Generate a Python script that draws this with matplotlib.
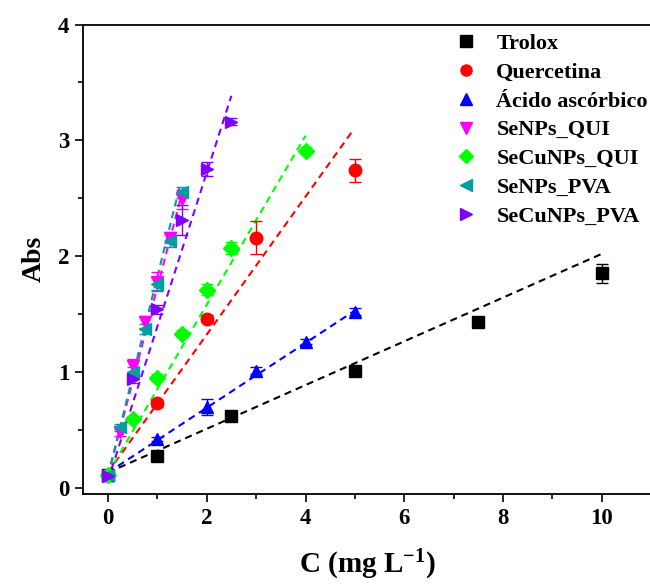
import matplotlib
matplotlib.use("Agg")
import matplotlib.pyplot as plt
import numpy as np
from matplotlib.lines import Line2D

# data
labels = ["Trolox", "Quercetina", "Ácido ascórbico", "SeNPs_QUI",
          "SeCuNPs_QUI", "SeNPs_PVA", "SeCuNPs_PVA"]
colors = ["#000000", "#FF0000", "#0000FF", "#FF00FF",
          "#00FF00", "#009E9E", "#8000FF"]
markers = ["s", "o", "^", "v", "D", "<", ">"]

trolox_x = [0, 1, 2.5, 5, 7.5, 10]
trolox_y = [0.11, 0.27, 0.62, 1.01, 1.43, 1.85]
trolox_e = [0.02, 0.02, 0.02, 0.04, 0.02, 0.085]

querc_x = [0, 1, 2, 3, 5]
querc_y = [0.11, 0.73, 1.46, 2.16, 2.74]
querc_e = [0.02, 0.03, 0.03, 0.14, 0.10]

ascorb_x = [0, 1, 2, 3, 4, 5]
ascorb_y = [0.11, 0.42, 0.70, 1.01, 1.26, 1.52]
ascorb_e = [0.02, 0.02, 0.07, 0.03, 0.02, 0.03]

senps_qui_x = [0, 0.25, 0.5, 0.75, 1.0, 1.25, 1.5]
senps_qui_y = [0.10, 0.48, 1.05, 1.43, 1.78, 2.16, 2.49]
senps_qui_e = [0.02, 0.03, 0.06, 0.05, 0.08, 0.05, 0.08]

secunps_qui_x = [0, 0.5, 1.0, 1.5, 2.0, 2.5, 4.0]
secunps_qui_y = [0.11, 0.59, 0.95, 1.33, 1.71, 2.07, 2.91]
secunps_qui_e = [0.02, 0.02, 0.03, 0.03, 0.05, 0.05, 0.03]

senps_pva_x = [0, 0.25, 0.5, 0.75, 1.0, 1.25, 1.5]
senps_pva_y = [0.11, 0.52, 1.00, 1.37, 1.76, 2.13, 2.55]
senps_pva_e = [0.02, 0.03, 0.04, 0.04, 0.05, 0.05, 0.05]

secunps_pva_x = [0, 0.5, 1.0, 1.5, 2.0, 2.5]
secunps_pva_y = [0.10, 0.94, 1.54, 2.31, 2.75, 3.16]
secunps_pva_e = [0.02, 0.04, 0.04, 0.13, 0.06, 0.03]

# fitted lines: intercept, slope, last x
fit_intercept = [0.13, 0.13, 0.13, 0.10, 0.12, 0.10, 0.06]
fit_slope = [0.189, 0.596, 0.28, 1.63, 0.73, 1.72, 1.33]
fit_xmax = [10, 4.95, 5, 1.5, 4, 1.46, 2.5]

series = [
    (trolox_x, trolox_y, trolox_e),
    (querc_x, querc_y, querc_e),
    (ascorb_x, ascorb_y, ascorb_e),
    (senps_qui_x, senps_qui_y, senps_qui_e),
    (secunps_qui_x, secunps_qui_y, secunps_qui_e),
    (senps_pva_x, senps_pva_y, senps_pva_e),
    (secunps_pva_x, secunps_pva_y, secunps_pva_e),
]

plt.rcParams["font.family"] = ["Liberation Serif", "DejaVu Serif"]
plt.rcParams["font.weight"] = "bold"
plt.rcParams["mathtext.fontset"] = "custom"
plt.rcParams["mathtext.rm"] = "Liberation Serif:bold"
plt.rcParams["mathtext.it"] = "Liberation Serif:bold"
plt.rcParams["mathtext.bf"] = "Liberation Serif:bold"

fig = plt.figure(figsize=(6.5, 5.86), dpi=100)
ax = fig.add_axes([0.128, 0.157, 0.874, 0.801])

for i, (x, y, e) in enumerate(series):
    xx = np.array([0, fit_xmax[i]])
    ax.plot(xx, fit_intercept[i] + fit_slope[i] * xx, color=colors[i],
            linestyle=(0, (3.4, 2.4)), linewidth=1.5, zorder=2)

for i, (x, y, e) in enumerate(series):
    ms = 8 if markers[i] in ("D", "s") else 9
    ax.errorbar(x, y, yerr=e, fmt=markers[i], color=colors[i],
                markersize=ms, capsize=4, elinewidth=1, capthick=1,
                zorder=3)

ax.set_xlim(-0.5, 11)
ax.set_ylim(-0.055, 4)
ax.set_xticks([0, 2, 4, 6, 8, 10])
ax.set_xticks([1, 3, 5, 7, 9], minor=True)
ax.set_yticks([0, 1, 2, 3, 4])
ax.set_yticks([0.5, 1.5, 2.5, 3.5], minor=True)
ax.tick_params(which="major", direction="out", length=6, width=1.2,
               labelsize=16.5, pad=4)
ax.tick_params(which="minor", direction="out", length=3.5, width=1.2)
for lab in ax.get_xticklabels() + ax.get_yticklabels():
    lab.set_fontweight("bold")
for sp in ax.spines.values():
    sp.set_linewidth(1.3)

ax.set_xlabel("C (mg L$^{-1}$)", fontsize=21, fontweight="bold",
              labelpad=14)
ax.set_ylabel("Abs", fontsize=20, fontweight="bold", labelpad=8)

handles = [Line2D([], [], linestyle="none", marker=markers[i],
                  color=colors[i], markersize=8 if markers[i] != "D" else 7)
           for i in range(len(labels))]
ax.legend(handles, labels, loc="upper left", bbox_to_anchor=(0.6295, 1.0),
          frameon=False, labelspacing=0.37, handletextpad=0.6,
          handlelength=1.5, borderaxespad=0,
          prop={"weight": "bold", "size": 16})

fig.savefig("out.png", dpi=100)
